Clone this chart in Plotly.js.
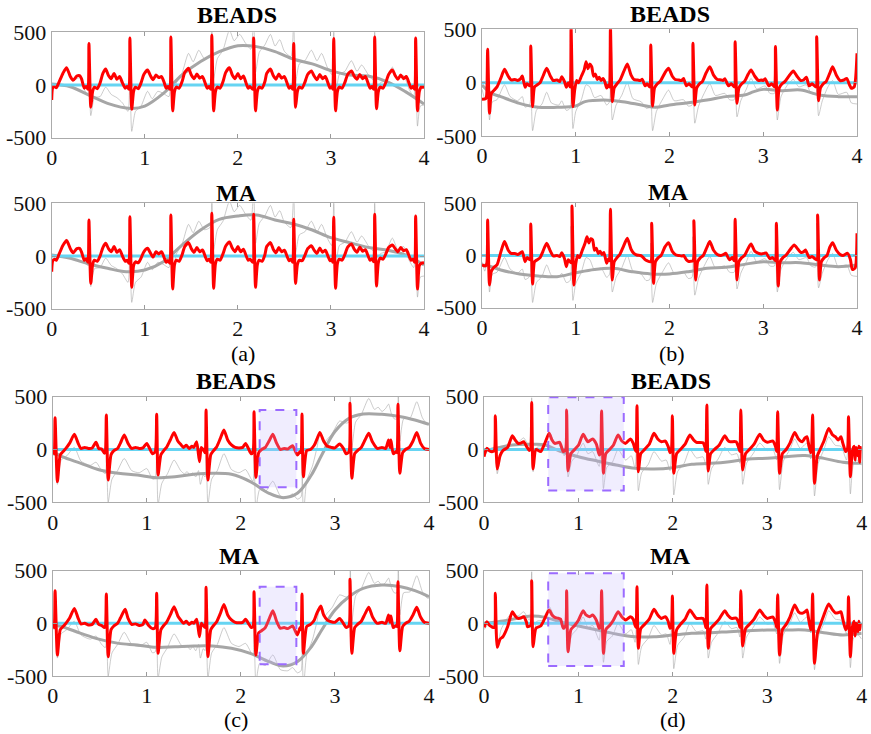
<!DOCTYPE html>
<html><head><meta charset="utf-8">
<script src="https://cdn.plot.ly/plotly-3.0.1.min.js"></script>
<style>html,body{margin:0;padding:0;background:#fff}#chart{width:871px;height:734px}</style>
</head><body><div id="chart"></div>
<script>
// ---------- tick labels ----------
const xTickVals = [0, 1, 2, 3, 4];
const xTickText = ['0', '1', '2', '3', '4'];
const yTickVals = [-500, 0, 500];
const yTickText = ['-500', '0', '500'];
const zeroRef = [[0, 0], [4, 0]];

// ---------- (a) ----------
const redA_BEADS = [[0,-142],[0.01,-30],[0.03,-15],[0.05,-25],[0.08,30],[0.12,110],[0.16,164],[0.2,80],[0.23,45],[0.27,85],[0.3,88],[0.32,60],[0.35,-30],[0.37,-15],[0.39,-40],
[0.40,393],[0.42,-210],[0.44,-60],[0.46,-20],[0.49,-35],[0.52,20],[0.55,110],[0.58,152],[0.61,90],[0.64,60],[0.67,110],[0.70,55],[0.73,80],[0.76,20],[0.79,-30],[0.81,-15],[0.83,-40],
[0.84,446],[0.86,-230],[0.88,-60],[0.9,-20],[0.93,-35],[0.96,20],[0.99,100],[1.03,142],[1.06,90],[1.09,50],[1.12,95],[1.15,70],[1.18,80],[1.21,20],[1.23,-30],[1.25,-15],[1.27,-40],
[1.28,456],[1.30,-245],[1.32,-60],[1.34,-20],[1.37,-30],[1.40,30],[1.43,120],[1.47,158],[1.5,95],[1.53,60],[1.56,105],[1.59,65],[1.62,80],[1.65,15],[1.67,-30],[1.69,-15],[1.71,-40],
[1.72,472],[1.74,-245],[1.76,-60],[1.78,-20],[1.81,-30],[1.84,30],[1.87,120],[1.91,164],[1.94,95],[1.97,60],[2.0,110],[2.03,60],[2.06,85],[2.09,15],[2.11,-30],[2.13,-15],[2.16,-40],
[2.17,446],[2.19,-245],[2.21,-60],[2.23,-20],[2.26,-30],[2.29,30],[2.31,110],[2.35,152],[2.38,90],[2.41,55],[2.44,105],[2.47,65],[2.5,80],[2.53,15],[2.55,-30],[2.57,-15],[2.59,-40],
[2.60,393],[2.62,-212],[2.64,-60],[2.66,-20],[2.69,-30],[2.72,25],[2.75,100],[2.79,133],[2.82,85],[2.85,50],[2.88,100],[2.91,60],[2.94,80],[2.97,15],[2.99,-30],[3.01,-15],[3.02,-40],
[3.03,440],[3.05,-245],[3.07,-60],[3.09,-20],[3.12,-30],[3.15,25],[3.18,100],[3.22,133],[3.25,85],[3.28,55],[3.31,100],[3.34,60],[3.37,80],[3.40,15],[3.42,-30],[3.44,-15],[3.46,-40],
[3.47,456],[3.49,-225],[3.51,-60],[3.53,-20],[3.56,-30],[3.59,25],[3.62,100],[3.66,142],[3.69,90],[3.72,55],[3.75,95],[3.78,60],[3.81,80],[3.84,15],[3.86,-30],[3.88,-15],[3.90,-40],
[3.91,446],[3.93,-245],[3.95,-60],[3.97,-20],[4.0,-25]];
const baseA_BEADS = [[0,10],[0.2,-16],[0.4,-95],[0.6,-174],[0.85,-222],[1.0,-200],[1.2,-80],[1.4,95],[1.6,222],[1.8,316],[2.0,373],[2.2,364],[2.4,316],[2.6,244],[2.8,200],[3.0,136],[3.2,95],[3.4,85],[3.6,32],[3.8,-63],[4.0,-180]];
const redA_MA = [[0,-150],[0.01,-50],[0.03,-30],[0.05,-40],[0.08,20],[0.12,100],[0.16,146],[0.2,70],[0.23,30],[0.27,70],[0.3,72],[0.32,40],[0.35,-40],[0.37,-25],[0.39,-60],
[0.40,342],[0.42,-260],[0.44,-80],[0.46,-40],[0.49,-50],[0.52,0],[0.55,80],[0.58,120],[0.61,70],[0.64,40],[0.67,90],[0.70,35],[0.73,60],[0.76,0],[0.79,-50],[0.81,-40],[0.83,-70],
[0.84,373],[0.86,-297],[0.88,-90],[0.9,-55],[0.93,-65],[0.96,-20],[0.99,40],[1.03,73],[1.06,30],[1.09,-10],[1.12,40],[1.15,20],[1.18,40],[1.21,-20],[1.23,-60],[1.25,-45],[1.27,-70],
[1.28,390],[1.30,-313],[1.32,-80],[1.34,-40],[1.37,-50],[1.40,10],[1.43,90],[1.47,127],[1.5,70],[1.53,35],[1.56,80],[1.59,40],[1.62,57],[1.65,-5],[1.67,-45],[1.69,-30],[1.71,-60],
[1.72,405],[1.74,-307],[1.76,-70],[1.78,-30],[1.81,-40],[1.84,20],[1.87,95],[1.91,133],[1.94,75],[1.97,40],[2.0,90],[2.03,40],[2.06,65],[2.09,0],[2.11,-40],[2.13,-30],[2.16,-60],
[2.17,396],[2.19,-297],[2.21,-80],[2.23,-40],[2.26,-50],[2.29,10],[2.31,90],[2.35,127],[2.38,65],[2.41,30],[2.44,80],[2.47,40],[2.5,55],[2.53,-5],[2.55,-45],[2.57,-30],[2.59,-60],
[2.60,348],[2.62,-260],[2.64,-80],[2.66,-40],[2.69,-45],[2.72,5],[2.75,70],[2.79,98],[2.82,55],[2.85,25],[2.88,75],[2.91,35],[2.94,55],[2.97,-5],[2.99,-45],[3.01,-30],[3.02,-60],
[3.03,367],[3.05,-307],[3.07,-70],[3.09,-30],[3.12,-40],[3.15,15],[3.18,85],[3.22,114],[3.25,65],[3.28,35],[3.31,85],[3.34,45],[3.37,60],[3.40,0],[3.42,-40],[3.44,-25],[3.46,-55],
[3.47,396],[3.49,-285],[3.51,-60],[3.53,-20],[3.56,-30],[3.59,20],[3.62,80],[3.66,104],[3.69,70],[3.72,40],[3.75,80],[3.78,50],[3.81,60],[3.84,0],[3.86,-40],[3.88,-30],[3.90,-60],
[3.91,380],[3.93,-313],[3.95,-90],[3.97,-70],[4.0,-65]];
const baseA_MA = [[0,10],[0.2,-22],[0.4,-76],[0.6,-117],[0.8,-149],[1.0,-133],[1.2,-54],[1.4,104],[1.6,247],[1.8,348],[2.0,380],[2.2,389],[2.4,342],[2.6,304],[2.8,247],[3.0,174],[3.2,127],[3.4,82],[3.6,57],[3.8,10],[4.0,-85]];
const rawA = [[0,-130],[0.01,10],[0.05,0],[0.1,60],[0.16,160],[0.22,40],[0.3,70],[0.36,-60],[0.39,-90],
[0.40,290],[0.42,-290],[0.46,-120],[0.52,-110],[0.58,-20],[0.64,-90],[0.7,-120],[0.76,-170],[0.82,-250],
[0.84,220],[0.86,-440],[0.9,-250],[0.96,-200],[1.03,-60],[1.08,-130],[1.14,-60],[1.2,-80],[1.26,-110],
[1.28,350],[1.30,-150],[1.34,20],[1.4,110],[1.47,300],[1.52,220],[1.58,330],[1.64,250],[1.7,270],
[1.72,600],[1.74,60],[1.78,250],[1.84,330],[1.91,520],[1.96,420],[2.02,480],[2.08,400],[2.14,340],
[2.17,650],[2.19,120],[2.23,310],[2.29,380],[2.35,480],[2.4,370],[2.45,430],[2.5,320],[2.57,270],
[2.60,620],[2.62,30],[2.66,200],[2.72,230],[2.79,330],[2.85,230],[2.9,300],[2.96,170],[3.01,100],
[3.03,560],[3.05,-120],[3.09,100],[3.15,130],[3.22,230],[3.28,130],[3.33,190],[3.4,100],[3.45,50],
[3.47,520],[3.49,-180],[3.53,20],[3.59,40],[3.66,170],[3.72,60],[3.78,90],[3.84,-40],[3.89,-110],
[3.91,280],[3.93,-390],[3.96,-200],[4.0,-190]];

// ---------- (b) ----------
const redB_BEADS = [[0,-156],[0.04,-150],[0.05,-120],[0.06,312],[0.08,-287],[0.10,-100],[0.13,-70],[0.16,-40],[0.2,40],[0.24,125],[0.28,60],[0.31,25],[0.35,30],[0.38,20],[0.41,35],[0.43,62],[0.46,-44],[0.48,-10],[0.51,-30],
[0.52,344],[0.54,-225],[0.56,-40],[0.59,-20],[0.62,0],[0.65,60],[0.69,134],[0.73,60],[0.76,20],[0.8,25],[0.83,10],[0.85,56],[0.88,10],[0.9,-44],[0.92,0],[0.94,-40],
[0.95,520],[0.97,-225],[0.99,-60],[1.01,20],[1.03,0],[1.06,60],[1.09,120],[1.11,197],[1.13,130],[1.15,175],[1.17,150],[1.19,60],[1.21,80],[1.23,30],[1.25,50],[1.27,20],[1.29,40],[1.31,10],[1.33,-50],[1.35,-20],[1.36,-40],
[1.37,520],[1.39,-178],[1.41,-50],[1.44,-10],[1.47,20],[1.51,100],[1.55,175],[1.59,70],[1.62,30],[1.66,25],[1.69,20],[1.71,31],[1.74,-30],[1.76,-10],[1.79,-40],
[1.80,353],[1.82,-219],[1.84,-50],[1.87,-10],[1.9,10],[1.95,90],[1.99,134],[2.03,60],[2.06,30],[2.1,25],[2.13,20],[2.15,40],[2.18,-30],[2.21,-10],[2.24,-40],
[2.25,369],[2.27,-209],[2.29,-50],[2.32,-10],[2.35,10],[2.39,90],[2.43,150],[2.47,70],[2.51,30],[2.55,25],[2.57,20],[2.59,37],[2.63,-30],[2.66,-10],[2.69,-40],
[2.70,384],[2.72,-194],[2.74,-50],[2.77,-10],[2.8,10],[2.84,80],[2.87,119],[2.91,60],[2.95,20],[2.98,25],[3.0,20],[3.02,37],[3.06,-30],[3.09,-10],[3.12,-40],
[3.13,338],[3.15,-256],[3.17,-50],[3.2,-10],[3.23,10],[3.28,70],[3.32,109],[3.36,60],[3.4,20],[3.43,25],[3.46,50],[3.49,-30],[3.52,-10],[3.56,-40],
[3.57,431],[3.59,-169],[3.61,-50],[3.64,-10],[3.67,10],[3.71,90],[3.74,150],[3.78,70],[3.82,20],[3.86,25],[3.89,40],[3.92,-20],[3.94,-53],[3.97,-40],[4.0,275]];
const baseB_BEADS = [[0,-22],[0.1,-100],[0.2,-131],[0.4,-194],[0.6,-231],[0.8,-231],[1.0,-219],[1.1,-178],[1.3,-163],[1.5,-178],[1.7,-209],[1.85,-231],[2.0,-209],[2.2,-188],[2.4,-163],[2.6,-131],[2.8,-116],[2.9,-84],[3.0,-63],[3.2,-75],[3.4,-69],[3.6,-116],[3.8,-131],[4.0,-131]];
const redB_MA = [[0,-90],[0.03,-100],[0.05,-80],[0.06,340],[0.08,-283],[0.10,-150],[0.13,-110],[0.16,-90],[0.2,30],[0.24,133],[0.28,50],[0.31,20],[0.35,20],[0.38,10],[0.41,25],[0.43,37],[0.46,-59],[0.48,-20],[0.51,-40],
[0.52,302],[0.54,-273],[0.56,-60],[0.59,-40],[0.62,-20],[0.65,40],[0.69,117],[0.73,40],[0.76,-5],[0.8,0],[0.83,-10],[0.85,27],[0.88,-30],[0.9,-107],[0.92,-40],[0.95,-70],
[0.96,474],[0.98,-283],[1.0,-80],[1.02,0],[1.04,-20],[1.07,50],[1.1,120],[1.12,180],[1.14,120],[1.16,160],[1.18,149],[1.2,50],[1.22,70],[1.24,20],[1.26,40],[1.28,10],[1.3,30],[1.33,-75],[1.35,-30],[1.36,-50],
[1.37,442],[1.39,-235],[1.41,-60],[1.44,-20],[1.47,10],[1.51,90],[1.55,165],[1.59,60],[1.62,20],[1.65,5],[1.69,0],[1.71,-11],[1.74,-40],[1.76,-50],[1.8,-60],
[1.81,308],[1.83,-267],[1.85,-60],[1.88,-20],[1.91,0],[1.95,80],[1.99,123],[2.03,40],[2.07,5],[2.1,0],[2.13,-5],[2.15,0],[2.18,-40],[2.2,-55],[2.25,-50],
[2.26,334],[2.28,-235],[2.3,-60],[2.33,-20],[2.36,0],[2.4,80],[2.43,133],[2.47,50],[2.51,10],[2.55,0],[2.58,10],[2.6,21],[2.64,-40],[2.67,-20],[2.69,-50],
[2.70,347],[2.72,-235],[2.74,-60],[2.77,-20],[2.8,0],[2.84,70],[2.87,110],[2.91,40],[2.95,20],[2.98,15],[3.01,20],[3.03,25],[3.07,-30],[3.1,-20],[3.13,-50],
[3.14,308],[3.16,-292],[3.18,-60],[3.21,-20],[3.24,0],[3.29,60],[3.33,101],[3.37,60],[3.4,30],[3.43,35],[3.45,53],[3.49,-20],[3.52,-10],[3.57,-40],
[3.58,388],[3.60,-235],[3.62,-60],[3.65,-20],[3.68,0],[3.71,80],[3.74,123],[3.78,50],[3.82,10],[3.85,0],[3.9,21],[3.93,-40],[3.95,-133],[3.98,-120],[4.0,212]];
const baseB_MA = [[0,-91],[0.1,-107],[0.2,-139],[0.4,-177],[0.6,-196],[0.8,-203],[1.0,-165],[1.2,-133],[1.4,-123],[1.6,-155],[1.8,-177],[2.0,-177],[2.2,-155],[2.4,-123],[2.6,-113],[2.8,-85],[3.0,-59],[3.2,-69],[3.4,-69],[3.6,-91],[3.8,-107],[4.0,-91]];
const rawB = [[0,-60],[0.03,-150],[0.05,-60],[0.06,150],[0.08,-350],[0.11,-180],[0.16,-160],[0.24,-20],[0.3,-130],[0.38,-170],[0.43,-130],[0.46,-230],[0.51,-200],
[0.52,120],[0.54,-450],[0.58,-260],[0.64,-200],[0.69,-90],[0.74,-190],[0.82,-210],[0.85,-170],[0.9,-260],[0.94,-240],
[0.95,280],[0.97,-430],[1.0,-270],[1.06,-160],[1.11,-20],[1.15,-40],[1.2,-140],[1.27,-120],[1.33,-210],[1.36,-180],
[1.37,330],[1.39,-350],[1.43,-210],[1.49,-120],[1.55,0],[1.61,-150],[1.7,-180],[1.75,-240],[1.79,-230],
[1.80,120],[1.82,-450],[1.86,-270],[1.93,-150],[1.99,-70],[2.05,-170],[2.15,-160],[2.2,-220],[2.24,-210],
[2.25,180],[2.27,-380],[2.31,-220],[2.37,-100],[2.43,-10],[2.49,-120],[2.59,-100],[2.64,-160],[2.69,-160],
[2.70,260],[2.72,-320],[2.76,-170],[2.82,-60],[2.87,40],[2.93,-60],[3.02,-30],[3.07,-100],[3.12,-100],
[3.13,260],[3.15,-350],[3.19,-130],[3.26,-20],[3.32,30],[3.38,-40],[3.46,-20],[3.51,-100],[3.56,-110],
[3.57,310],[3.59,-310],[3.63,-170],[3.69,-40],[3.74,20],[3.8,-110],[3.89,-90],[3.94,-190],[4.0,-200]];

// ---------- (c) ----------
const redC_BEADS = [[0,-20],[0.015,-40],[0.025,301],[0.05,-304],[0.08,-52],[0.11,-20],[0.14,10],[0.18,60],[0.23,144],[0.27,60],[0.3,10],[0.34,20],[0.38,10],[0.42,15],[0.46,68],[0.49,10],[0.52,5],[0.55,-36],[0.56,-20],
[0.57,326],[0.59,-289],[0.62,-50],[0.65,-10],[0.69,10],[0.72,60],[0.76,137],[0.8,60],[0.84,10],[0.88,20],[0.92,10],[0.96,15],[1.0,58],[1.03,10],[1.06,-40],[1.09,-20],
[1.105,333],[1.12,-241],[1.15,-50],[1.18,-10],[1.21,20],[1.25,90],[1.29,162],[1.33,80],[1.36,49],[1.39,20],[1.42,40],[1.45,10],[1.48,30],[1.5,20],[1.53,74],[1.56,-115],[1.58,20],[1.6,0],[1.62,-30],
[1.63,374],[1.65,-289],[1.68,-50],[1.71,-10],[1.74,20],[1.78,100],[1.82,185],[1.86,90],[1.9,43],[1.94,20],[1.98,15],[2.02,20],[2.05,58],[2.08,10],[2.11,-40],[2.13,-20],
[2.14,358],[2.16,-264],[2.19,-30],[2.22,0],[2.26,20],[2.3,80],[2.34,144],[2.38,60],[2.42,0],[2.46,10],[2.5,5],[2.55,36],[2.6,-52],[2.63,-20],[2.64,-30],
[2.65,336],[2.665,-257],[2.7,-10],[2.74,0],[2.78,40],[2.81,100],[2.84,162],[2.88,80],[2.92,30],[2.96,20],[3.0,15],[3.05,52],[3.09,10],[3.12,-40],[3.15,-20],
[3.16,437],[3.18,-273],[3.21,-40],[3.24,-10],[3.28,20],[3.32,90],[3.36,153],[3.4,70],[3.45,10],[3.5,20],[3.54,10],[3.57,90],[3.585,20],[3.595,90],[3.62,-40],[3.65,-20],[3.66,-30],
[3.67,428],[3.69,-225],[3.72,-30],[3.75,0],[3.79,20],[3.83,80],[3.87,162],[3.91,60],[3.95,10],[4.0,0]];
const baseC_BEADS = [[0,-20],[0.1,-68],[0.3,-131],[0.5,-194],[0.7,-225],[0.9,-241],[1.1,-267],[1.3,-257],[1.5,-235],[1.7,-225],[1.9,-235],[2.1,-304],[2.3,-415],[2.45,-456],[2.6,-415],[2.75,-241],[2.86,-52],[3.0,170],[3.15,295],[3.3,336],[3.5,333],[3.7,311],[3.85,279],[4.0,238]];
const redC_MA = [[0,-20],[0.015,-40],[0.025,310],[0.05,-301],[0.08,-60],[0.11,-30],[0.14,0],[0.18,50],[0.23,142],[0.27,50],[0.3,-5],[0.34,0],[0.38,-15],[0.42,-10],[0.46,38],[0.49,-10],[0.52,-20],[0.55,-40],[0.56,-30],
[0.57,279],[0.59,-317],[0.62,-60],[0.65,-25],[0.69,0],[0.72,50],[0.77,133],[0.8,50],[0.84,-10],[0.88,-5],[0.92,-20],[0.96,-10],[0.98,32],[1.02,-20],[1.06,-50],[1.09,-40],
[1.105,285],[1.12,-285],[1.15,-60],[1.18,-20],[1.21,10],[1.25,80],[1.29,158],[1.33,70],[1.36,32],[1.39,0],[1.42,20],[1.45,-10],[1.48,10],[1.5,0],[1.53,40],[1.56,-127],[1.58,0],[1.6,-20],[1.62,-40],
[1.63,342],[1.65,-317],[1.68,-60],[1.71,-20],[1.74,10],[1.78,90],[1.82,180],[1.86,80],[1.9,32],[1.94,10],[1.98,5],[2.02,10],[2.05,38],[2.08,0],[2.11,-40],[2.13,-30],
[2.14,301],[2.16,-301],[2.19,-90],[2.22,-70],[2.26,-40],[2.3,40],[2.34,120],[2.38,20],[2.42,-47],[2.46,-40],[2.5,-50],[2.55,-25],[2.6,-110],[2.63,-40],[2.64,-60],
[2.65,279],[2.665,-285],[2.7,-30],[2.74,-10],[2.78,30],[2.81,100],[2.85,165],[2.88,80],[2.92,30],[2.96,15],[3.0,10],[3.05,47],[3.09,0],[3.12,-40],[3.15,-20],
[3.16,418],[3.18,-285],[3.21,-40],[3.24,-10],[3.28,20],[3.32,90],[3.36,152],[3.4,60],[3.45,0],[3.5,10],[3.54,0],[3.57,79],[3.585,10],[3.595,70],[3.62,-40],[3.65,-20],[3.66,-30],
[3.67,396],[3.69,-260],[3.72,-30],[3.75,0],[3.79,20],[3.83,80],[3.87,152],[3.91,60],[3.95,10],[4.0,0]];
const baseC_MA = [[0,-16],[0.1,-32],[0.3,-95],[0.5,-152],[0.7,-190],[0.9,-206],[1.1,-228],[1.3,-222],[1.5,-215],[1.7,-215],[1.9,-237],[2.1,-285],[2.3,-364],[2.45,-405],[2.6,-364],[2.75,-222],[2.86,-63],[3.0,127],[3.15,253],[3.3,332],[3.5,364],[3.7,348],[3.85,310],[4.0,253]];
const rawC = [[0,-20],[0.015,-60],[0.025,280],[0.05,-330],[0.09,-100],[0.15,-60],[0.23,20],[0.3,-110],[0.4,-150],[0.46,-120],[0.52,-200],[0.56,-230],
[0.57,100],[0.59,-500],[0.63,-280],[0.69,-200],[0.76,-85],[0.84,-200],[0.92,-220],[1.0,-180],[1.06,-280],[1.09,-270],
[1.105,60],[1.12,-520],[1.16,-320],[1.22,-230],[1.29,-100],[1.36,-200],[1.4,-230],[1.43,-210],[1.46,-250],[1.49,-220],[1.52,-260],[1.55,-200],[1.57,-330],[1.6,-240],[1.62,-260],
[1.63,140],[1.65,-520],[1.69,-280],[1.75,-200],[1.82,-40],[1.9,-190],[1.98,-220],[2.05,-190],[2.11,-280],[2.13,-300],
[2.14,0],[2.16,-560],[2.2,-380],[2.26,-400],[2.34,-300],[2.42,-440],[2.5,-450],[2.55,-420],[2.6,-470],[2.64,-450],
[2.65,-80],[2.665,-620],[2.7,-300],[2.76,-160],[2.81,20],[2.84,150],[2.88,60],[2.92,100],[2.97,150],[3.05,270],[3.12,250],[3.15,260],
[3.16,720],[3.18,20],[3.22,260],[3.28,330],[3.36,484],[3.42,380],[3.46,400],[3.5,360],[3.54,390],[3.57,430],[3.6,340],[3.63,290],[3.66,290],
[3.67,740],[3.69,80],[3.73,290],[3.8,300],[3.87,452],[3.93,300],[3.98,240],[4.0,240]];

// ---------- (d) ----------
const redD_BEADS = [[0,-68],[0.03,11],[0.06,-14],[0.09,-20],[0.11,-10],
[0.12,320],[0.14,-185],[0.17,-60],[0.2,-10],[0.25,20],[0.3,131],[0.33,90],[0.36,58],[0.39,60],[0.42,74],[0.45,30],[0.48,-10],[0.495,10],
[0.505,446],[0.52,-185],[0.55,0],[0.6,-20],[0.64,50],[0.69,153],[0.72,90],[0.75,58],[0.8,68],[0.84,-20],[0.865,0],
[0.875,374],[0.89,-203],[0.92,-40],[0.96,0],[1.0,40],[1.05,144],[1.08,100],[1.1,74],[1.15,99],[1.19,50],[1.22,-52],[1.235,-20],
[1.245,364],[1.265,-225],[1.29,-40],[1.33,0],[1.37,40],[1.42,137],[1.46,80],[1.5,58],[1.55,100],[1.58,60],[1.6,0],[1.61,-20],
[1.62,415],[1.635,-210],[1.66,-40],[1.7,0],[1.75,50],[1.8,153],[1.84,100],[1.88,74],[1.92,80],[1.95,30],[1.97,-30],[1.985,0],
[1.995,320],[2.01,-225],[2.04,-40],[2.08,0],[2.13,50],[2.18,137],[2.22,90],[2.25,68],[2.32,64],[2.34,20],[2.35,-20],
[2.36,421],[2.375,-203],[2.4,-40],[2.44,0],[2.49,40],[2.55,131],[2.58,90],[2.6,74],[2.67,74],[2.7,10],[2.71,-20],
[2.72,374],[2.74,-194],[2.77,-40],[2.81,0],[2.86,50],[2.92,144],[2.96,90],[3.0,68],[3.06,80],[3.09,20],[3.1,-20],
[3.11,358],[3.13,-225],[3.16,-40],[3.2,0],[3.24,60],[3.29,162],[3.33,100],[3.37,74],[3.4,110],[3.42,121],[3.44,40],[3.46,-30],[3.47,20],
[3.48,326],[3.5,-320],[3.53,-60],[3.56,0],[3.6,80],[3.65,200],[3.69,140],[3.72,121],[3.75,90],[3.78,120],[3.8,60],[3.83,-20],[3.85,10],
[3.86,311],[3.88,-257],[3.9,-20],[3.92,30],[3.93,-100],[3.94,20],[3.96,-60],[3.97,30],[3.98,-120],[3.99,20],[4.0,10]];
const baseD_BEADS = [[0,-14],[0.15,17],[0.3,43],[0.5,49],[0.65,43],[0.8,-14],[1.0,-68],[1.2,-109],[1.4,-147],[1.6,-178],[1.8,-185],[2.0,-172],[2.2,-140],[2.4,-131],[2.6,-115],[2.8,-90],[3.0,-84],[3.2,-68],[3.4,-58],[3.6,-84],[3.8,-121],[4.0,-131]];
const redD_MA = [[0,-38],[0.03,16],[0.06,-20],[0.08,-32],[0.11,-40],
[0.12,285],[0.14,-228],[0.17,-150],[0.2,-127],[0.25,-32],[0.3,111],[0.33,70],[0.36,47],[0.39,50],[0.42,63],[0.45,10],[0.46,-32],[0.495,-20],
[0.505,405],[0.52,-222],[0.55,-47],[0.6,-25],[0.64,40],[0.69,127],[0.72,80],[0.75,57],[0.78,50],[0.81,40],[0.84,-47],[0.865,-20],
[0.875,310],[0.89,-269],[0.92,-60],[0.96,-20],[1.0,30],[1.05,120],[1.08,80],[1.12,63],[1.15,79],[1.19,30],[1.22,-47],[1.235,-30],
[1.245,310],[1.265,-285],[1.29,-60],[1.33,-20],[1.37,30],[1.42,111],[1.46,60],[1.5,32],[1.55,63],[1.58,40],[1.6,-20],[1.61,-40],
[1.62,348],[1.635,-237],[1.66,-50],[1.7,-10],[1.75,40],[1.8,133],[1.84,80],[1.88,47],[1.92,63],[1.95,20],[1.97,-47],[1.985,-20],
[1.995,260],[2.01,-285],[2.04,-60],[2.08,-10],[2.13,40],[2.18,127],[2.22,80],[2.25,47],[2.32,47],[2.34,0],[2.35,-40],
[2.36,364],[2.375,-237],[2.4,-50],[2.44,-10],[2.49,40],[2.55,120],[2.58,80],[2.62,47],[2.67,50],[2.7,0],[2.71,-40],
[2.72,310],[2.74,-215],[2.77,-50],[2.81,-10],[2.86,40],[2.92,127],[2.96,80],[3.0,47],[3.06,60],[3.09,0],[3.1,-40],
[3.11,269],[3.13,-301],[3.16,-60],[3.2,-10],[3.24,60],[3.29,174],[3.33,110],[3.37,95],[3.4,110],[3.42,127],[3.44,30],[3.46,-60],[3.47,-20],
[3.48,279],[3.5,-380],[3.53,-100],[3.56,-20],[3.6,80],[3.65,184],[3.69,130],[3.72,100],[3.75,101],[3.78,110],[3.8,40],[3.83,-60],[3.85,-20],
[3.86,253],[3.88,-317],[3.9,-40],[3.92,20],[3.93,-120],[3.94,0],[3.96,-80],[3.97,20],[3.98,-60],[3.99,-10],[4.0,-20]];
const baseD_MA = [[0,0],[0.15,16],[0.3,38],[0.5,70],[0.65,57],[0.8,16],[1.0,-25],[1.2,-63],[1.4,-101],[1.6,-127],[1.8,-127],[2.0,-111],[2.2,-95],[2.4,-89],[2.6,-79],[2.8,-70],[3.0,-63],[3.2,-63],[3.4,-63],[3.6,-89],[3.8,-111],[4.0,-95]];
const rawD = [[0,-60],[0.05,-10],[0.1,-20],[0.12,250],[0.14,-230],[0.18,-60],[0.24,40],[0.3,100],[0.36,70],[0.42,110],[0.48,30],
[0.505,490],[0.52,-210],[0.56,20],[0.62,30],[0.69,160],[0.75,60],[0.8,40],[0.85,-60],
[0.875,300],[0.89,-260],[0.93,-110],[0.98,-60],[1.05,60],[1.1,-40],[1.15,-20],[1.22,-160],
[1.245,250],[1.265,-370],[1.3,-170],[1.36,-120],[1.42,0],[1.5,-100],[1.56,-60],[1.6,-180],
[1.62,240],[1.635,-390],[1.67,-220],[1.74,-140],[1.8,-20],[1.88,-110],[1.93,-100],[1.97,-200],
[1.995,150],[2.01,-430],[2.05,-210],[2.12,-130],[2.18,0],[2.25,-80],[2.32,-70],[2.35,-150],
[2.36,290],[2.375,-330],[2.41,-180],[2.48,-90],[2.55,20],[2.62,-50],[2.68,-40],[2.71,-130],
[2.72,290],[2.74,-330],[2.78,-130],[2.85,-40],[2.92,60],[3.0,-10],[3.06,0],[3.1,-100],
[3.11,290],[3.13,-380],[3.17,-110],[3.24,0],[3.29,100],[3.35,10],[3.42,60],[3.46,-90],
[3.48,270],[3.5,-440],[3.54,-130],[3.6,0],[3.65,120],[3.72,40],[3.78,30],[3.84,-100],
[3.86,190],[3.88,-420],[3.91,-150],[3.95,-100],[4.0,-150]];

// highlighted windows [x0, x1, y0, y1]
const boxC_BEADS = [2.2, 2.59, -358, 374];
const boxC_MA = [2.2, 2.59, -389, 348];
const boxD_BEADS = [0.68, 1.48, -388, 494];
const boxD_MA = [0.68, 1.48, -405, 475];

// ---------- layout of panels (pixel boxes: left, right, top, bottom) ----------
const W = 871, H = 734;
const FONT = '"Liberation Serif", "Times New Roman", serif';
const panels = [
  {title:'BEADS', red:redA_BEADS, base:baseA_BEADS, raw:rawA, pos:[51.7,424,32.3,137.7], tpos:[237,15], box:null},
  {title:'BEADS', red:redB_BEADS, base:baseB_BEADS, raw:rawB, pos:[482,857,29.3,136], tpos:[670,14], box:null},
  {title:'MA', red:redA_MA, base:baseA_MA, raw:rawA, pos:[51.7,424,203.3,308.7], tpos:[236,192.5], box:null},
  {title:'MA', red:redB_MA, base:baseB_MA, raw:rawB, pos:[482,857,203.3,307.7], tpos:[668,192], box:null},
  {title:'BEADS', red:redC_BEADS, base:baseC_BEADS, raw:rawC, pos:[52.7,429,396.7,502.3], tpos:[236,381], box:boxC_BEADS},
  {title:'BEADS', red:redD_BEADS, base:baseD_BEADS, raw:rawD, pos:[484,861.7,396.7,502.3], tpos:[671,381], box:boxD_BEADS},
  {title:'MA', red:redC_MA, base:baseC_MA, raw:rawC, pos:[52.7,429,570.7,676], tpos:[240,556], box:boxC_MA},
  {title:'MA', red:redD_MA, base:baseD_MA, raw:rawD, pos:[484,861.7,570.7,676], tpos:[670,556], box:boxD_MA}
];
const subLabels = [['(a)',243,353],['(b)',672,353],['(c)',236,719],['(d)',673,719]];

const traces = [];
const layout = {
  width: W, height: H, margin:{l:0,r:0,t:0,b:0},
  paper_bgcolor:'#ffffff', plot_bgcolor:'#ffffff',
  showlegend:false, font:{family:FONT, color:'#111'},
  annotations:[], shapes:[]
};
const xs = a => a.map(p => p[0]);
const ys = a => a.map(p => p[1]);

panels.forEach((p, i) => {
  const n = i + 1, sx = n === 1 ? '' : String(n);
  const xa = 'x' + sx, ya = 'y' + sx;
  traces.push({type:'scatter', mode:'lines', x:xs(p.raw), y:ys(p.raw), xaxis:xa, yaxis:ya,
    line:{color:'rgba(160,160,160,0.6)', width:0.9, shape:'spline', smoothing:0.6}, hoverinfo:'skip'});
  traces.push({type:'scatter', mode:'lines', x:xs(p.base), y:ys(p.base), xaxis:xa, yaxis:ya,
    line:{color:'#a6a6a6', width:3, shape:'spline', smoothing:1}, hoverinfo:'skip'});
  traces.push({type:'scatter', mode:'lines', x:xs(zeroRef), y:ys(zeroRef), xaxis:xa, yaxis:ya,
    line:{color:'#66d4f2', width:3}, hoverinfo:'skip'});
  traces.push({type:'scatter', mode:'lines', x:xs(p.red), y:ys(p.red), xaxis:xa, yaxis:ya,
    line:{color:'#ff0000', width:3, shape:'spline', smoothing:0.6}, hoverinfo:'skip'});
  const [l, r, t, b] = p.pos;
  layout['xaxis' + sx] = {domain:[l/W, r/W], range:[0,4], anchor:ya,
    tickvals:xTickVals, ticktext:xTickText, ticks:'inside', ticklen:4, tickcolor:'#9a9a9a', tickwidth:1,
    showline:true, mirror:'ticks', linecolor:'#ababab', linewidth:1, showgrid:false, zeroline:false,
    tickfont:{family:FONT, size:22, color:'#111'}, fixedrange:true};
  layout['yaxis' + sx] = {domain:[1 - b/H, 1 - t/H], range:[-500,500], anchor:xa,
    tickvals:yTickVals, ticktext:yTickText, ticks:'inside', ticklen:4, tickcolor:'#9a9a9a', tickwidth:1,
    showline:true, mirror:'ticks', linecolor:'#ababab', linewidth:1, showgrid:false, zeroline:false,
    tickfont:{family:FONT, size:22, color:'#111'}, fixedrange:true};
  layout.annotations.push({xref:'paper', yref:'paper', x:p.tpos[0]/W, y:1 - p.tpos[1]/H,
    xanchor:'center', yanchor:'middle', showarrow:false, text:'<b>' + p.title + '</b>',
    font:{family:FONT, size:24, color:'#000'}});
  if (p.box) {
    layout.shapes.push({type:'rect', xref:xa, yref:ya, x0:p.box[0], x1:p.box[1], y0:p.box[2], y1:p.box[3],
      line:{color:'#9b6bff', width:2, dash:'dash'}, fillcolor:'rgba(195,182,250,0.25)', layer:'above'});
  }
});
subLabels.forEach(s => layout.annotations.push({xref:'paper', yref:'paper', x:s[1]/W, y:1 - s[2]/H,
  xanchor:'center', yanchor:'middle', showarrow:false, text:s[0], font:{family:FONT, size:22, color:'#000'}}));

Plotly.newPlot('chart', traces, layout, {staticPlot:true, displayModeBar:false});
</script>
</body></html>
